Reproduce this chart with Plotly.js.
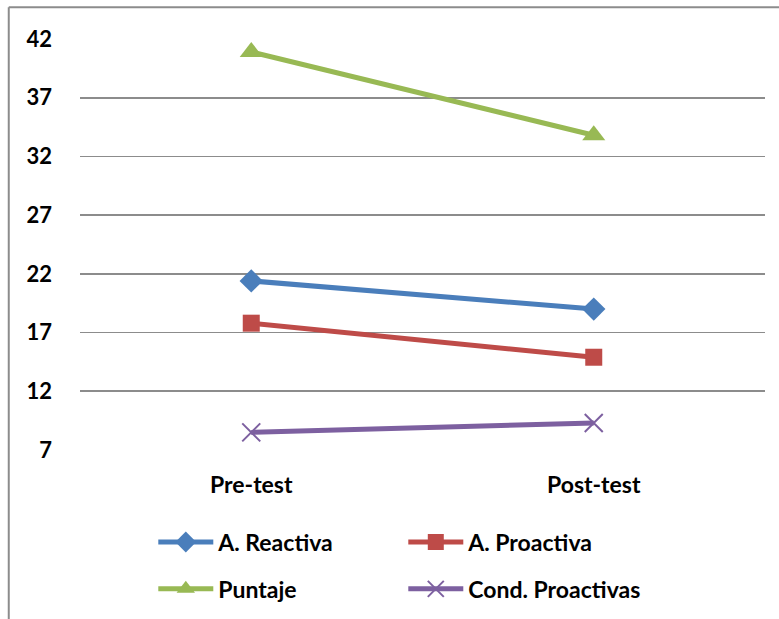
<!DOCTYPE html>
<html>
<head>
<meta charset="utf-8">
<script src="https://cdn.plot.ly/plotly-3.0.1.min.js"></script>
<style>html,body{margin:0;padding:0;background:#fff;}#chart{width:779px;height:619px;}</style>
</head>
<body>
<div id="chart"></div>
<script>
const categories = ["Pre-test", "Post-test"];
const reactiva = [21.4, 19.0];
const proactiva = [17.8, 14.9];
const puntaje = [40.9, 33.8];
const condProactivas = [8.5, 9.3];
const yTicks = [7, 12, 17, 22, 27, 32, 37, 42];

const FONT = "Lato, 'Open Sans', Arial, sans-serif";

const traces = [
  {x: categories, y: reactiva, name: "A. Reactiva", mode: "lines+markers", legend: "legend",
   line: {color: "#4A7EBB", width: 5}, marker: {symbol: "diamond", size: 18, color: "#4A7EBB"}},
  {x: categories, y: proactiva, name: "A. Proactiva", mode: "lines+markers", legend: "legend",
   line: {color: "#BE4B48", width: 5}, marker: {symbol: "square", size: 17, color: "#BE4B48"}},
  {x: categories, y: puntaje, name: "Puntaje", mode: "lines+markers", legend: "legend2",
   line: {color: "#98B954", width: 5}, marker: {symbol: "triangle-up", size: 20, color: "#98B954"}},
  {x: categories, y: condProactivas, name: "Cond. Proactivas", mode: "lines+markers", legend: "legend2",
   line: {color: "#7D60A0", width: 5}, marker: {symbol: "x-thin-open", size: 18, color: "#7D60A0", line: {color: "#7D60A0", width: 2}}}
];

const legendCommon = {
  orientation: "h", xanchor: "left", yanchor: "middle", x: 0.107,
  entrywidth: 180, entrywidthmode: "pixels", itemwidth: 55,
  font: {family: FONT, size: 23, color: "#000", weight: "bold"},
  bgcolor: "rgba(0,0,0,0)", traceorder: "normal"
};

const layout = {
  width: 779, height: 619,
  margin: {l: 80, r: 14, t: 39, b: 169, autoexpand: false},
  paper_bgcolor: "#fff", plot_bgcolor: "#fff",
  showlegend: true,
  xaxis: {
    type: "category", range: [-0.5, 1.5], showgrid: false, zeroline: false, showline: false,
    ticks: "", ticklabelstandoff: 19,
    tickfont: {family: FONT, size: 23, color: "#000", weight: "bold"}
  },
  yaxis: {
    range: [7, 42], tickmode: "array", tickvals: yTicks, ticktext: yTicks.map(String),
    showgrid: true, gridcolor: "#8C8C8C", gridwidth: 1.8, zeroline: false, showline: false,
    ticks: "", ticklabelstandoff: 27,
    tickfont: {family: FONT, size: 22, color: "#000", weight: "bold"}
  },
  legend: Object.assign({}, legendCommon, {y: -0.224}),
  legend2: Object.assign({}, legendCommon, {y: -0.338}),
  shapes: [
    {type: "line", xref: "paper", yref: "paper", x0: -0.104, x1: -0.104, y0: -1, y1: 1.077,
     line: {color: "#8C8C8C", width: 2}},
    {type: "line", xref: "paper", yref: "paper", x0: -0.104, x1: 1.2, y0: 1.077, y1: 1.077,
     line: {color: "#8C8C8C", width: 2}}
  ]
};

Plotly.newPlot("chart", traces, layout, {displayModeBar: false, staticPlot: true});
</script>
</body>
</html>
